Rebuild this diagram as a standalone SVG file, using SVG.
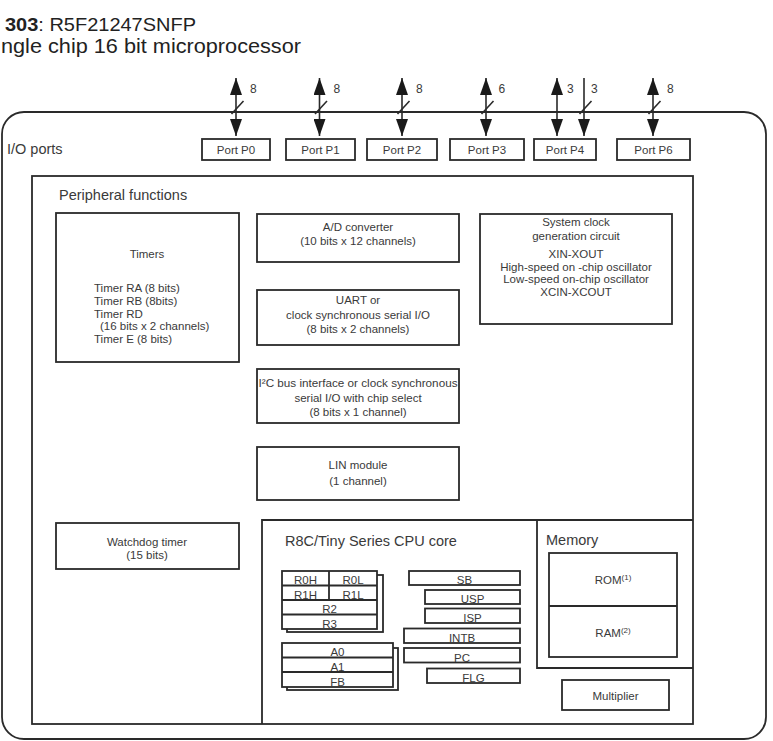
<svg xmlns="http://www.w3.org/2000/svg" width="773" height="741" viewBox="0 0 773 741">
<style>
text{font-family:"Liberation Sans",Arial,sans-serif;fill:#3a3a3a}
.b{fill:#fff;stroke:#2a2a2a;stroke-width:1.8}
.l{fill:none;stroke:#2a2a2a;stroke-width:1.8}
.t{font-size:11.5px;text-anchor:middle}
.h{font-size:14.5px}
.r{font-size:11.5px;text-anchor:middle}
.n{font-size:12px}
.w{stroke:#2a2a2a;stroke-width:1.6;fill:none}
</style>
<defs>
<marker id="ah" viewBox="0 0 17 12" refX="17" refY="6" markerWidth="17" markerHeight="12" markerUnits="userSpaceOnUse" orient="auto-start-reverse">
<path d="M0,0 L17,6 L0,12 z" fill="#1a1a1a"/>
</marker>
</defs>
<g id="title">
<text x="5" y="31" style="font-size:19px;fill:#222" textLength="191" lengthAdjust="spacingAndGlyphs"><tspan font-weight="bold">303</tspan>: R5F21247SNFP</text>
<text x="1" y="53" style="font-size:19.5px;fill:#222" textLength="300" lengthAdjust="spacingAndGlyphs">ngle chip 16 bit microprocessor</text>
</g>
<g id="io-ports">
<rect class="l" x="2" y="112" width="764" height="627" rx="22"/>
<text class="h" x="7" y="154">I/O ports</text>
</g>
<g id="ports">
<g id="port-p0"><rect class="b" x="202" y="139" width="68" height="21"/><text class="t" x="236" y="154">Port P0</text></g>
<g id="port-p1"><rect class="b" x="286" y="139" width="69" height="21"/><text class="t" x="320.5" y="154">Port P1</text></g>
<g id="port-p2"><rect class="b" x="367" y="139" width="70" height="21"/><text class="t" x="402" y="154">Port P2</text></g>
<g id="port-p3"><rect class="b" x="450" y="139" width="74" height="21"/><text class="t" x="487" y="154">Port P3</text></g>
<g id="port-p4"><rect class="b" x="534" y="139" width="62" height="21"/><text class="t" x="565" y="154">Port P4</text></g>
<g id="port-p6"><rect class="b" x="617" y="139" width="73" height="21"/><text class="t" x="653.5" y="154">Port P6</text></g>
</g>
<g id="connectors">
<line class="w" x1="236" y1="78" x2="236" y2="136" marker-start="url(#ah)" marker-end="url(#ah)"/>
<line class="w" x1="319.5" y1="78" x2="319.5" y2="136" marker-start="url(#ah)" marker-end="url(#ah)"/>
<line class="w" x1="402" y1="78" x2="402" y2="136" marker-start="url(#ah)" marker-end="url(#ah)"/>
<line class="w" x1="486" y1="78" x2="486" y2="136" marker-start="url(#ah)" marker-end="url(#ah)"/>
<line class="w" x1="557" y1="78" x2="557" y2="136" marker-start="url(#ah)" marker-end="url(#ah)"/>
<line class="w" x1="584" y1="78" x2="584" y2="136" marker-end="url(#ah)"/>
<line class="w" x1="653" y1="78" x2="653" y2="136" marker-start="url(#ah)" marker-end="url(#ah)"/>
<g class="w">
<line x1="231.5" y1="114" x2="243.5" y2="101"/>
<line x1="315" y1="114" x2="327" y2="101"/>
<line x1="397.5" y1="114" x2="409.5" y2="101"/>
<line x1="481.5" y1="114" x2="493.5" y2="101"/>
<line x1="579.5" y1="114" x2="591.5" y2="101"/>
<line x1="648.5" y1="114" x2="660.5" y2="101"/>
</g>
<text class="n" x="250" y="92.5">8</text>
<text class="n" x="333.5" y="92.5">8</text>
<text class="n" x="416" y="92.5">8</text>
<text class="n" x="498.5" y="92.5">6</text>
<text class="n" x="567" y="92.5">3</text>
<text class="n" x="591" y="92.5">3</text>
<text class="n" x="667" y="92.5">8</text>
</g>
<g id="peripheral-functions">
<rect class="l" x="32" y="176" width="661" height="548"/>
<text class="h" x="59" y="200">Peripheral functions</text>
</g>
<g id="timers">
<rect class="b" x="56" y="213" width="183" height="149"/>
<text class="t" x="147" y="258">Timers</text>
<text style="font-size:11.5px" x="94" y="292">Timer RA (8 bits)</text>
<text style="font-size:11.5px" x="94" y="305">Timer RB (8bits)</text>
<text style="font-size:11.5px" x="94" y="317.5">Timer RD</text>
<text style="font-size:11.5px" x="100" y="330">(16 bits x 2 channels)</text>
<text style="font-size:11.5px" x="94" y="343">Timer E (8 bits)</text>
</g>
<g id="ad-converter">
<rect class="b" x="257" y="214" width="202" height="48"/>
<text class="t" x="358" y="231">A/D converter</text>
<text class="t" x="358" y="245">(10 bits x 12 channels)</text>
</g>
<g id="uart">
<rect class="b" x="257" y="290" width="202" height="55"/>
<text class="t" x="358" y="304">UART or</text>
<text class="t" x="358" y="318.5">clock synchronous serial I/O</text>
<text class="t" x="358" y="333">(8 bits x 2 channels)</text>
</g>
<g id="i2c">
<rect class="b" x="257" y="369" width="202" height="54"/>
<text class="t" x="358" y="387" textLength="199" lengthAdjust="spacingAndGlyphs">I²C bus interface or clock synchronous</text>
<text class="t" x="358" y="402">serial I/O with chip select</text>
<text class="t" x="358" y="416">(8 bits x 1 channel)</text>
</g>
<g id="lin">
<rect class="b" x="257" y="447" width="202" height="53"/>
<text class="t" x="358" y="469">LIN module</text>
<text class="t" x="358" y="485">(1 channel)</text>
</g>
<g id="system-clock">
<rect class="b" x="480" y="214" width="192" height="110"/>
<text class="t" x="576" y="226">System clock</text>
<text class="t" x="576" y="240">generation circuit</text>
<text class="t" x="576" y="258">XIN-XOUT</text>
<text class="t" x="576" y="270.5">High-speed on -chip oscillator</text>
<text class="t" x="576" y="283">Low-speed on-chip oscillator</text>
<text class="t" x="576" y="296">XCIN-XCOUT</text>
</g>
<g id="watchdog">
<rect class="b" x="56" y="523" width="183" height="46"/>
<text class="t" x="147" y="545.5">Watchdog timer</text>
<text class="t" x="147" y="559">(15 bits)</text>
</g>
<g id="cpu-core">
<path class="l" d="M262,724 V520 H693"/>
<text class="h" x="285" y="546">R8C/Tiny Series CPU core</text>
<g id="reg-r">
<rect class="b" x="287" y="575" width="96" height="57"/>
<rect class="b" x="282" y="571" width="95" height="58"/>
<path class="l" d="M282,585.5 H377 M282,600 H377 M282,614.5 H377 M329,571 V600"/>
<text class="r" x="305.5" y="584">R0H</text>
<text class="r" x="353" y="584">R0L</text>
<text class="r" x="305.5" y="598.5">R1H</text>
<text class="r" x="353" y="598.5">R1L</text>
<text class="r" x="329.5" y="613">R2</text>
<text class="r" x="329.5" y="627.5">R3</text>
</g>
<g id="reg-a">
<rect class="b" x="287" y="648" width="111" height="42"/>
<rect class="b" x="282" y="643" width="111" height="44"/>
<path class="l" d="M282,657.5 H393 M282,672 H393"/>
<text class="r" x="337.5" y="656">A0</text>
<text class="r" x="337.5" y="670.5">A1</text>
<text class="r" x="337.5" y="685.5">FB</text>
</g>
<g id="reg-sb"><rect class="b" x="409" y="571" width="111" height="14"/><text class="r" x="464.5" y="584">SB</text></g>
<g id="reg-usp"><rect class="b" x="425" y="590" width="95" height="14"/><text class="r" x="472.5" y="603">USP</text></g>
<g id="reg-isp"><rect class="b" x="425" y="608.5" width="95" height="14.5"/><text class="r" x="472.5" y="622">ISP</text></g>
<g id="reg-intb"><rect class="b" x="404" y="628.5" width="116" height="14.5"/><text class="r" x="462" y="642">INTB</text></g>
<g id="reg-pc"><rect class="b" x="404" y="648" width="116" height="14.5"/><text class="r" x="462" y="661.5">PC</text></g>
<g id="reg-flg"><rect class="b" x="427" y="668.5" width="93" height="14.5"/><text class="r" x="473.5" y="682">FLG</text></g>
</g>
<g id="memory">
<path class="l" d="M537,520 V668 H693"/>
<text class="h" x="546" y="545">Memory</text>
<rect class="b" x="549" y="553" width="128" height="104"/>
<line class="l" x1="549" y1="606" x2="677" y2="606"/>
<text class="t" x="613" y="584">ROM<tspan style="font-size:8px" dy="-4">(1)</tspan></text>
<text class="t" x="613" y="637">RAM<tspan style="font-size:8px" dy="-4">(2)</tspan></text>
</g>
<g id="multiplier">
<rect class="b" x="562" y="680" width="107" height="30"/>
<text class="t" x="615.5" y="700">Multiplier</text>
</g>
</svg>
